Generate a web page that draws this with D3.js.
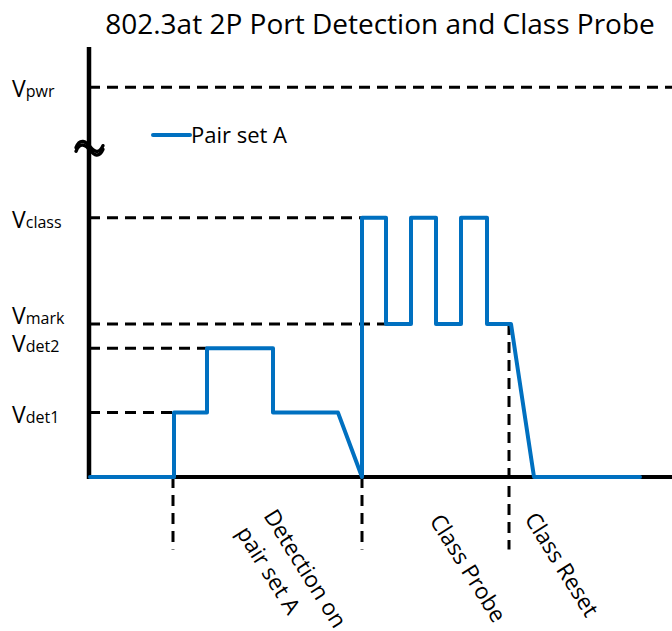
<!DOCTYPE html>
<html>
<head>
<meta charset="utf-8">
<script src="https://cdn.jsdelivr.net/npm/d3@7"></script>
<style>
  body { margin: 0; background: #fff; }
  text { font-family: "Open Sans", "Noto Sans", sans-serif; fill: #000; }
</style>
</head>
<body>
<div id="chart-area"></div>
<script>
// levels on the voltage axis (Vpwr sits above the axis break)
let levelNames = ["Vdet1", "Vdet2", "Vmark", "Vclass", "Vpwr"]
let levelSubs = ["det1", "det2", "mark", "class", "pwr"]
let levelValues = [4, 8, 9.5, 16.1, 24.2]
// how far (in time) each dashed level guide runs
let levelGuideEnd = [85, 118, 297, 273, 583]

// pair set A waveform
let waveT = [1, 85, 85, 118, 118, 184, 184, 249, 273, 273, 297, 297, 322, 322, 347, 347, 372, 372, 398, 398, 422, 445, 551]
let waveV = [0, 0, 4, 4, 8, 8, 4, 4, 0, 16.1, 16.1, 9.5, 9.5, 16.1, 16.1, 9.5, 9.5, 16.1, 16.1, 9.5, 9.5, 0, 0]

// phase markers and labels
let markerT = [84, 273, 420]
let markerTop = [0, 0, 9.5]
let phaseLabels = [["Detection on", "pair set A"], ["Class Probe"], ["Class Reset"]]

let width = 672, height = 631

let svg = d3.select("#chart-area").append("svg")
            .attr("width", width)
            .attr("height", height)

let x = d3.scaleLinear().domain([0, 583]).range([89, 672])
let y = d3.scaleLinear().domain([0, 26.7]).range([477, 47])

let blue = "#0070C0"

// title
svg.append("text")
    .attr("x", 380)
    .attr("y", 34)
    .attr("text-anchor", "middle")
    .style("font-size", "28px")
    .text("802.3at 2P Port Detection and Class Probe")

// dashed level guides
svg.selectAll(".guide")
    .data(levelValues)
  .enter().append("line")
    .attr("class", "guide")
    .attr("x1", x(0))
    .attr("x2", (d, i) => x(levelGuideEnd[i]))
    .attr("y1", d => y(d))
    .attr("y2", d => y(d))
    .attr("stroke", "#000")
    .attr("stroke-width", 3)
    .attr("stroke-dasharray", "11,7")

// dashed phase markers
svg.selectAll(".marker")
    .data(markerT)
  .enter().append("line")
    .attr("class", "marker")
    .attr("x1", d => x(d))
    .attr("x2", d => x(d))
    .attr("y1", (d, i) => y(markerTop[i]))
    .attr("y2", y(-4.5))
    .attr("stroke", "#000")
    .attr("stroke-width", 3)
    .attr("stroke-dasharray", "11,7")

// axes
svg.append("line")
    .attr("x1", x(0)).attr("x2", x(583))
    .attr("y1", y(0)).attr("y2", y(0))
    .attr("stroke", "#000").attr("stroke-width", 4)
svg.append("line")
    .attr("x1", x(0)).attr("x2", x(0))
    .attr("y1", y(0) + 2).attr("y2", y(26.7))
    .attr("stroke", "#000").attr("stroke-width", 4.5)

// axis break squiggle (two close strokes so it reads thick)
let bx = x(0), by = y(20.4)
;[-1.8, 1.8].forEach(off => {
  svg.append("path")
      .attr("d", "M" + (bx - 13) + "," + (by + off + 1) +
                 " C" + (bx - 9) + "," + (by + off - 9) + " " + (bx - 3) + "," + (by + off - 5) + " " + (bx + 1) + "," + (by + off) +
                 " C" + (bx + 5) + "," + (by + off + 5) + " " + (bx + 10) + "," + (by + off + 8) + " " + (bx + 14) + "," + (by + off - 1))
      .attr("fill", "none")
      .attr("stroke", "#000")
      .attr("stroke-width", 3.4)
      .attr("stroke-linecap", "round")
})

// level labels
let nudge = { Vmark: -10, Vdet2: -6 }
let lab = svg.selectAll(".lvl")
    .data(levelNames)
  .enter().append("text")
    .attr("class", "lvl")
    .attr("x", 12)
    .attr("y", (d, i) => y(levelValues[i]) + 10 + (nudge[d] || 0))
lab.append("tspan")
    .style("font-size", "23px")
    .text("V")
lab.append("tspan")
    .style("font-size", "16px")
    .text((d, i) => levelSubs[i])

// waveform
let wave = waveT.map((t, i) => [t, waveV[i]])
let line = d3.line().x(d => x(d[0])).y(d => y(d[1]))
svg.append("path")
    .datum(wave)
    .attr("d", line)
    .attr("fill", "none")
    .attr("stroke", blue)
    .attr("stroke-width", 4)
    .attr("stroke-linejoin", "round")
    .attr("stroke-linecap", "round")

// legend
svg.append("line")
    .attr("x1", 153).attr("x2", 190)
    .attr("y1", 135).attr("y2", 135)
    .attr("stroke", blue).attr("stroke-width", 4)
    .attr("stroke-linecap", "round")
svg.append("text")
    .attr("x", 191)
    .attr("y", 143)
    .style("font-size", "22px")
    .text("Pair set A")

// rotated phase labels
let labelT = [174, 340, 435]
let labelV = [-2.4, -2.7, -2.6]
let pl = svg.selectAll(".phase")
    .data(phaseLabels)
  .enter().append("text")
    .attr("class", "phase")
    .attr("transform", (d, i) => "translate(" + x(labelT[i]) + "," + y(labelV[i]) + ") rotate(58)")
    .style("font-size", "22.5px")
pl.selectAll("tspan")
    .data(d => d)
  .enter().append("tspan")
    .attr("x", 0)
    .attr("dy", (d, i) => i === 0 ? 0 : 32)
    .text(d => d)
</script>
</body>
</html>
